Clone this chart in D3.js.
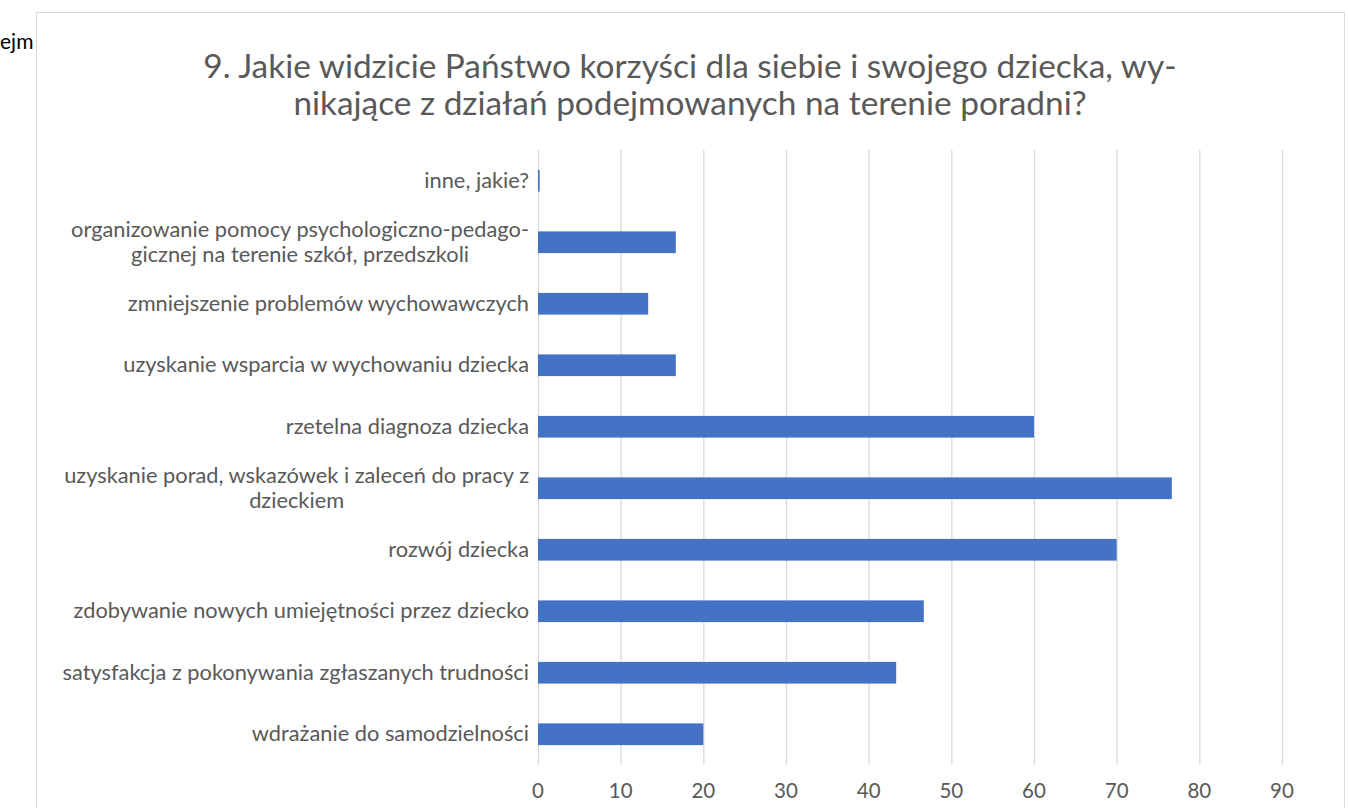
<!DOCTYPE html>
<html><head><meta charset="utf-8">
<script src="https://cdn.jsdelivr.net/npm/d3@7"></script>
<style>body{margin:0;background:#fff;}svg{display:block;}</style>
</head><body>
<svg id="c" width="1348" height="808"></svg>
<script>
const categories = [
  ["inne, jakie?"],
  ["organizowanie pomocy psychologiczno-pedago-", "gicznej na terenie szkół, przedszkoli"],
  ["zmniejszenie problemów wychowawczych"],
  ["uzyskanie wsparcia w wychowaniu dziecka"],
  ["rzetelna diagnoza dziecka"],
  ["uzyskanie porad, wskazówek i zaleceń do pracy z", "dzieckiem"],
  ["rozwój dziecka"],
  ["zdobywanie nowych umiejętności przez dziecko"],
  ["satysfakcja z pokonywania zgłaszanych trudności"],
  ["wdrażanie do samodzielności"]
];
const values = [0.2, 16.67, 13.33, 16.67, 60, 76.67, 70, 46.67, 43.33, 20];
const xTicks = [0, 10, 20, 30, 40, 50, 60, 70, 80, 90];
const titleLines = ["9. Jakie widzicie Państwo korzyści dla siebie i swojego dziecka, wy-", "nikające z działań podejmowanych na terenie poradni?"];

(function() {
const svg = d3.select("#c");
const font = "Lato, Carlito, 'Open Sans', sans-serif";
const textColor = "#595959";

svg.append("text").attr("x", 0).attr("y", 49).attr("font-family", font).attr("font-size", 21).attr("fill", "#000").text("ejm");

svg.append("rect").attr("x", 36.5).attr("y", 12.5).attr("width", 1308).attr("height", 820)
  .attr("fill", "#fff").attr("stroke", "#d9d9d9").attr("stroke-width", 1);

svg.append("g").selectAll("text").data(titleLines).join("text")
  .attr("x", 690).attr("y", (d, i) => 78 + i * 37).attr("text-anchor", "middle")
  .attr("font-family", font).attr("font-size", 33.4).attr("fill", textColor)
  .text(d => d);

const pL = 538, pR = 1282, pT = 150, pB = 765;
const x = d3.scaleLinear().domain([0, 90]).range([pL, pR]);
const y = d3.scaleBand().domain(d3.range(categories.length)).range([pT, pB]).paddingInner(0.647).paddingOuter(0.3235);

svg.append("g").selectAll("line").data(xTicks).join("line")
  .attr("x1", d => x(d) + 0.5).attr("x2", d => x(d) + 0.5)
  .attr("y1", pT).attr("y2", pB)
  .attr("stroke", "#d9d9d9").attr("stroke-width", 1.3);

svg.append("g").selectAll("rect").data(values).join("rect")
  .attr("x", x(0)).attr("y", (d, i) => y(i))
  .attr("width", d => x(d) - x(0)).attr("height", y.bandwidth())
  .attr("fill", "#4472C4");

svg.append("g").selectAll("text").data(xTicks).join("text")
  .attr("x", d => x(d)).attr("y", 798).attr("text-anchor", "middle")
  .attr("font-family", font).attr("font-size", 20.5).attr("fill", textColor)
  .text(d => d);

const lab = svg.append("g");
categories.forEach((lines, i) => {
  const cy = y(i) + y.bandwidth() / 2;
  const t = lab.append("text").attr("font-family", font).attr("font-size", 21.8).attr("fill", textColor)
    .attr("text-anchor", "middle");
  const n = lines.length;
  lines.forEach((l, j) => {
    t.append("tspan").attr("y", cy + 7 + (j - (n - 1) / 2) * 25.5).text(l);
  });
  let maxW = 0;
  t.selectAll("tspan").each(function() { maxW = Math.max(maxW, this.getComputedTextLength()); });
  t.selectAll("tspan").attr("x", 529 - maxW / 2);
});
})();
</script>
</body></html>
